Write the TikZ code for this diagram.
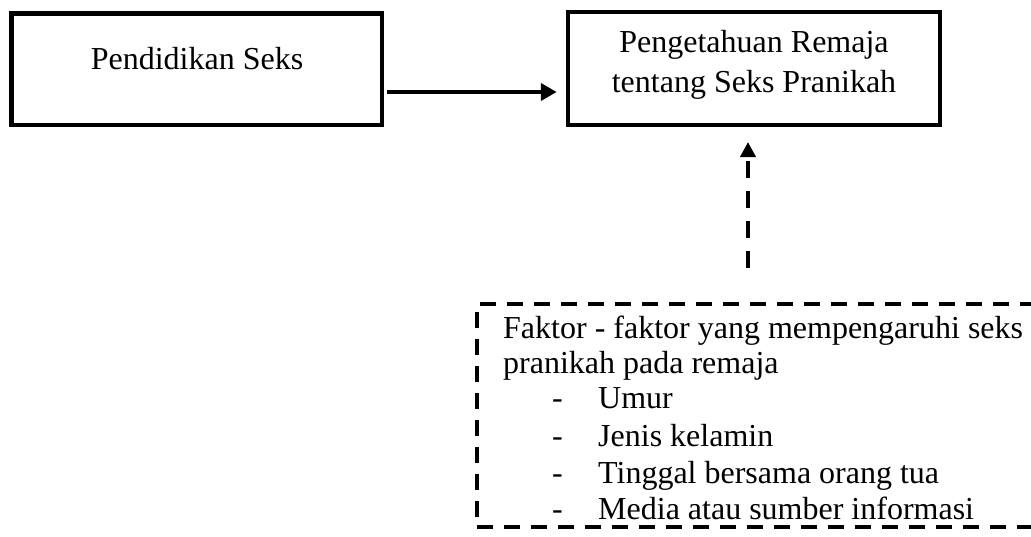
\documentclass[tikz,border=0pt]{standalone}
\usepackage{fontspec}
\setmainfont{Liberation Serif}
\usetikzlibrary{arrows.meta}
\begin{document}
\begin{tikzpicture}[x=1pt,y=-1pt,
  solidbox/.style={draw, line width=4.5pt, inner sep=0pt},
  dashbox/.style={draw, line width=4pt, dash pattern=on 16pt off 11pt, inner sep=0pt},
  txt/.style={font=\fontsize{32}{40}\selectfont, inner sep=0pt},
  conn/.style={line width=4pt, -{Triangle[length=16pt,width=17pt]}},
  dconn/.style={line width=4pt, dash pattern=on 17pt off 13pt, -{Triangle[length=15pt,width=15pt]}}]
\useasboundingbox (0,0) rectangle (1031,536);
\clip (0,0) rectangle (1031,536);
% boxes
\node[solidbox, minimum width=370.5pt, minimum height=111.5pt] (b1) at (196.75,69.25) {};
\node[solidbox, minimum width=372pt, minimum height=113pt] (b2) at (754,68.5) {};
\node[dashbox, minimum width=600pt, minimum height=223pt] (b3) at (777,415.5) {};
% texts
\node[txt, anchor=base] (t1) at (197,69) {Pendidikan Seks};
\node[txt, anchor=base] (t2) at (754,52) {Pengetahuan Remaja};
\node[txt, anchor=base] (t3) at (754,92) {tentang Seks Pranikah};
\node[txt, anchor=base west] (f1) at (503,338) {Faktor - faktor yang mempengaruhi seks};
\node[txt, anchor=base west] (f2) at (503,373) {pranikah pada remaja};
\node[txt, anchor=base west] (d1) at (552,408) {-};
\node[txt, anchor=base west] (d2) at (552,446) {-};
\node[txt, anchor=base west] (d3) at (552,483) {-};
\node[txt, anchor=base west] (d4) at (552,519) {-};
\node[txt, anchor=base west] (i1) at (598,408) {Umur};
\node[txt, anchor=base west] (i2) at (598,446) {Jenis kelamin};
\node[txt, anchor=base west] (i3) at (598,483) {Tinggal bersama orang tua};
\node[txt, anchor=base west] (i4) at (598,519) {Media atau sumber informasi};
% connectors
\draw[conn, shorten <=3pt, shorten >=9pt] (b1.east |- 0,92) -- (b2.west |- 0,92);
\coordinate (c1) at (748,304);
\coordinate (c2) at (748,125);
\draw[dconn, shorten <=36pt, shorten >=17pt] (c1) -- (c2);
\end{tikzpicture}
\end{document}
